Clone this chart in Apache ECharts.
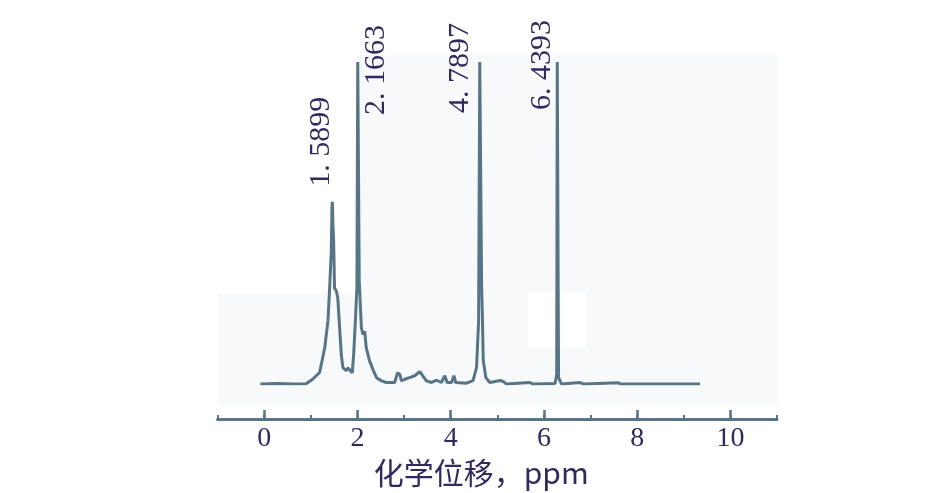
<!DOCTYPE html>
<html><head><meta charset="utf-8">
<script src="https://cdn.jsdelivr.net/npm/echarts@6/dist/echarts.min.js"></script>
<style>html,body{margin:0;padding:0;background:#fff}#c{width:938px;height:493px}</style>
</head><body><div id="c"></div>
<script>
// chemical shift (ppm) and relative intensity
const shiftPpm = [-0.08,0.3,0.6,0.9,1.04,1.19,1.30,1.37,1.405,1.44,1.455,1.463,1.475,1.49,1.51,1.55,1.58,1.62,1.655,1.69,1.76,1.80,1.83,1.89,1.92,1.957,1.99,2.008,2.022,2.04,2.086,2.12,2.157,2.19,2.26,2.335,2.41,2.52,2.62,2.80,2.86,2.91,2.945,3.016,3.12,3.23,3.34,3.375,3.48,3.59,3.70,3.80,3.875,3.925,4.02,4.07,4.11,4.34,4.48,4.556,4.60,4.625,4.645,4.665,4.68,4.70,4.756,4.84,5.06,5.13,5.20,5.70,5.77,6.24,6.275,6.287,6.299,6.315,6.38,6.78,6.85,7.6,7.65,9.35];
const intensity = [0,0.2,0,0.1,1.5,3.6,11.3,19.7,29.8,41.2,55,56.6,50,45,29.8,28.9,26.7,17.4,9.1,5.1,4.2,5.0,4.6,3.5,9.1,19.6,29.8,100,100,32,17.5,15.4,16.4,11.3,7.3,4.5,2.0,1.0,0.5,0.5,3.5,3.0,1.0,1.5,2.0,2.6,3.9,3.5,1.0,0.5,1.2,0.5,2.6,0.5,0.5,2.6,0.5,0.3,1.1,5.1,19.6,100,100,30,22,7.3,2.0,0.5,1.1,0.8,0,0.5,0,0.2,3.0,100,100,2.0,0,0.5,0,0.4,0,0];
const peakPpm = [1.463, 2.015, 4.635, 6.293];
const peakHeight = [56.6, 100, 100, 100];
const peakLabels = ['1. 5899', '2. 1663', '4. 7897', '6. 4393'];
const tickLabels = [0, 2, 4, 6, 8, 10];
const axisTitle = '化学位移，ppm';

const lineColor = '#587487';
const textColor = '#33295f';
const serif = '"Liberation Serif", "DejaVu Serif", serif';

const chart = echarts.init(document.getElementById('c'), null, {renderer: 'canvas'});
const data = shiftPpm.map((x, i) => [x, intensity[i]]);

chart.setOption({
  animation: false,
  backgroundColor: '#ffffff',
  grid: {left: 217.5, right: 161, top: 62, bottom: 107.5},
  xAxis: [{
    type: 'value', min: -1, max: 11, interval: 1, position: 'bottom', offset: 35,
    axisLine: {onZero: false, lineStyle: {color: lineColor, width: 3}},
    axisTick: {inside: true, length: 4, lineStyle: {color: lineColor, width: 2}},
    axisLabel: {formatter: v => tickLabels.includes(v) ? String(v) : '', fontFamily: serif, fontSize: 28, color: textColor, margin: 6},
    splitLine: {show: false},
    name: axisTitle, nameLocation: 'middle', nameGap: 35,
    nameTextStyle: {fontFamily: '"Noto Sans CJK SC", sans-serif', fontSize: 30, color: textColor, padding: [0, 32, 0, 0]}
  }, {
    type: 'value', min: -1, max: 11, position: 'bottom', offset: 35,
    axisLine: {show: false, onZero: false},
    axisTick: {inside: true, length: 9, customValues: tickLabels, lineStyle: {color: lineColor, width: 2.5}},
    axisLabel: {show: false},
    splitLine: {show: false}
  }],
  yAxis: {type: 'value', min: 0, max: 100, show: false},
  graphic: [
    {type: 'rect', z: -10, shape: {x: 358, y: 55, width: 420, height: 350}, style: {fill: '#f7f9fb'}},
    {type: 'rect', z: -10, shape: {x: 218, y: 293, width: 140, height: 112}, style: {fill: '#f7f9fb'}},
    {type: 'rect', z: -9, shape: {x: 528, y: 292, width: 58, height: 56}, style: {fill: '#ffffff'}}
  ],
  series: [{
    type: 'line', data: data, symbol: 'none', clip: true,
    lineStyle: {color: lineColor, width: 3}
  }]
});

// peak annotations, anchored to the peak tops
const labelShift = [[-11, -15], [18, 53], [-20, 51], [-15.5, 48]];
const texts = peakPpm.map((p, i) => {
  const pt = chart.convertToPixel({gridIndex: 0}, [p, peakHeight[i]]);
  return {
    id: 'pk' + i, type: 'text', z: 10, x: pt[0] + labelShift[i][0], y: pt[1] + labelShift[i][1],
    rotation: Math.PI / 2,
    style: {text: peakLabels[i], font: '30px ' + serif, fill: textColor, align: 'left', verticalAlign: 'middle'}
  };
});
chart.setOption({graphic: texts});
</script></body></html>
